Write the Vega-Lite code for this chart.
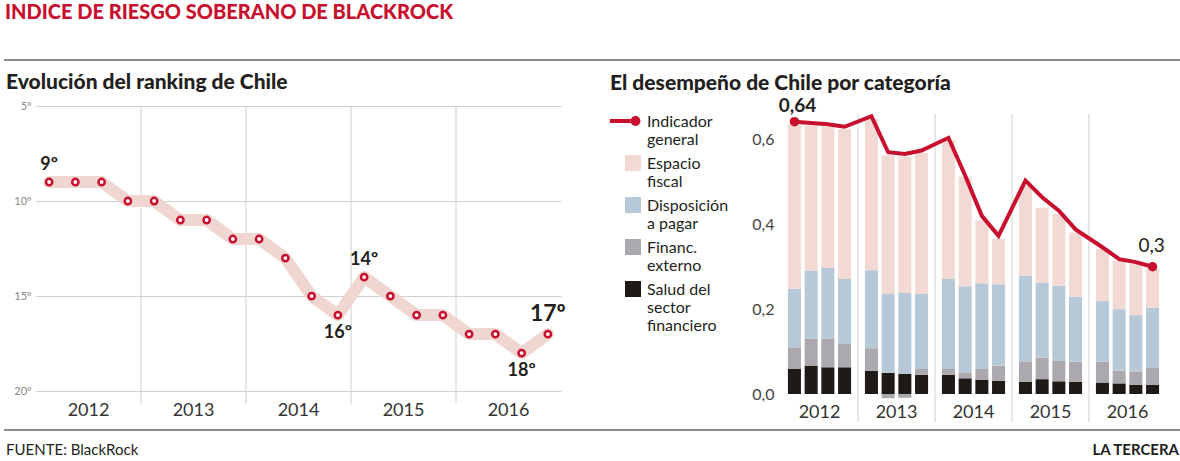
{
  "$schema": "https://vega.github.io/schema/vega-lite/v6.json",
  "background": "white",
  "padding": {"left": 3, "top": 3, "right": 0, "bottom": 0},
  "config": {"font": "Lato", "view": {"stroke": null}},
  "bounds": "full",
  "spacing": 6,
  "resolve": {"scale": {"color": "independent", "xOffset": "independent"}, "legend": {"color": "independent"}},
  "datasets": {
    "separador": [{"ini": 0, "fin": 1, "nivel": 1}],
    "ranking": [
      {"anio": "2012", "trim": "T1", "puesto": 9, "etiqueta": "9º"},
      {"anio": "2012", "trim": "T2", "puesto": 9},
      {"anio": "2012", "trim": "T3", "puesto": 9},
      {"anio": "2012", "trim": "T4", "puesto": 10},
      {"anio": "2013", "trim": "T1", "puesto": 10},
      {"anio": "2013", "trim": "T2", "puesto": 11},
      {"anio": "2013", "trim": "T3", "puesto": 11},
      {"anio": "2013", "trim": "T4", "puesto": 12},
      {"anio": "2014", "trim": "T1", "puesto": 12},
      {"anio": "2014", "trim": "T2", "puesto": 13},
      {"anio": "2014", "trim": "T3", "puesto": 15},
      {"anio": "2014", "trim": "T4", "puesto": 16, "etiqueta": "16º"},
      {"anio": "2015", "trim": "T1", "puesto": 14, "etiqueta": "14º"},
      {"anio": "2015", "trim": "T2", "puesto": 15},
      {"anio": "2015", "trim": "T3", "puesto": 16},
      {"anio": "2015", "trim": "T4", "puesto": 16},
      {"anio": "2016", "trim": "T1", "puesto": 17},
      {"anio": "2016", "trim": "T2", "puesto": 17},
      {"anio": "2016", "trim": "T3", "puesto": 18, "etiqueta": "18º"},
      {"anio": "2016", "trim": "T4", "puesto": 17, "etiqueta": "17º"}
    ],
    "indicador": [
      {"anio": "2012", "trim": "T1", "valor": 0.642, "etiqueta": "0,64"},
      {"anio": "2012", "trim": "T2", "valor": 0.639},
      {"anio": "2012", "trim": "T3", "valor": 0.636},
      {"anio": "2012", "trim": "T4", "valor": 0.630},
      {"anio": "2013", "trim": "T1", "valor": 0.655},
      {"anio": "2013", "trim": "T2", "valor": 0.570},
      {"anio": "2013", "trim": "T3", "valor": 0.566},
      {"anio": "2013", "trim": "T4", "valor": 0.574},
      {"anio": "2014", "trim": "T1", "valor": 0.604},
      {"anio": "2014", "trim": "T2", "valor": 0.515},
      {"anio": "2014", "trim": "T3", "valor": 0.420},
      {"anio": "2014", "trim": "T4", "valor": 0.373},
      {"anio": "2015", "trim": "T1", "valor": 0.503},
      {"anio": "2015", "trim": "T2", "valor": 0.464},
      {"anio": "2015", "trim": "T3", "valor": 0.432},
      {"anio": "2015", "trim": "T4", "valor": 0.388},
      {"anio": "2016", "trim": "T1", "valor": 0.346},
      {"anio": "2016", "trim": "T2", "valor": 0.318},
      {"anio": "2016", "trim": "T3", "valor": 0.311},
      {"anio": "2016", "trim": "T4", "valor": 0.300, "etiqueta": "0,3"}
    ],
    "componentes": [
      {"anio": "2012", "trim": "T1", "categoria": "Salud del sector financiero", "valor": 0.059},
      {"anio": "2012", "trim": "T1", "categoria": "Financ. externo", "valor": 0.051},
      {"anio": "2012", "trim": "T1", "categoria": "Disposición a pagar", "valor": 0.138},
      {"anio": "2012", "trim": "T1", "categoria": "Espacio fiscal", "valor": 0.387},
      {"anio": "2012", "trim": "T2", "categoria": "Salud del sector financiero", "valor": 0.067},
      {"anio": "2012", "trim": "T2", "categoria": "Financ. externo", "valor": 0.064},
      {"anio": "2012", "trim": "T2", "categoria": "Disposición a pagar", "valor": 0.160},
      {"anio": "2012", "trim": "T2", "categoria": "Espacio fiscal", "valor": 0.342},
      {"anio": "2012", "trim": "T3", "categoria": "Salud del sector financiero", "valor": 0.063},
      {"anio": "2012", "trim": "T3", "categoria": "Financ. externo", "valor": 0.068},
      {"anio": "2012", "trim": "T3", "categoria": "Disposición a pagar", "valor": 0.166},
      {"anio": "2012", "trim": "T3", "categoria": "Espacio fiscal", "valor": 0.333},
      {"anio": "2012", "trim": "T4", "categoria": "Salud del sector financiero", "valor": 0.063},
      {"anio": "2012", "trim": "T4", "categoria": "Financ. externo", "valor": 0.055},
      {"anio": "2012", "trim": "T4", "categoria": "Disposición a pagar", "valor": 0.153},
      {"anio": "2012", "trim": "T4", "categoria": "Espacio fiscal", "valor": 0.353},
      {"anio": "2013", "trim": "T1", "categoria": "Salud del sector financiero", "valor": 0.055},
      {"anio": "2013", "trim": "T1", "categoria": "Financ. externo", "valor": 0.053},
      {"anio": "2013", "trim": "T1", "categoria": "Disposición a pagar", "valor": 0.184},
      {"anio": "2013", "trim": "T1", "categoria": "Espacio fiscal", "valor": 0.356},
      {"anio": "2013", "trim": "T2", "categoria": "Salud del sector financiero", "valor": 0.050},
      {"anio": "2013", "trim": "T2", "categoria": "Financ. externo", "valor": -0.010},
      {"anio": "2013", "trim": "T2", "categoria": "Disposición a pagar", "valor": 0.186},
      {"anio": "2013", "trim": "T2", "categoria": "Espacio fiscal", "valor": 0.327},
      {"anio": "2013", "trim": "T3", "categoria": "Salud del sector financiero", "valor": 0.048},
      {"anio": "2013", "trim": "T3", "categoria": "Financ. externo", "valor": -0.009},
      {"anio": "2013", "trim": "T3", "categoria": "Disposición a pagar", "valor": 0.190},
      {"anio": "2013", "trim": "T3", "categoria": "Espacio fiscal", "valor": 0.322},
      {"anio": "2013", "trim": "T4", "categoria": "Salud del sector financiero", "valor": 0.045},
      {"anio": "2013", "trim": "T4", "categoria": "Financ. externo", "valor": 0.014},
      {"anio": "2013", "trim": "T4", "categoria": "Disposición a pagar", "valor": 0.177},
      {"anio": "2013", "trim": "T4", "categoria": "Espacio fiscal", "valor": 0.332},
      {"anio": "2014", "trim": "T1", "categoria": "Salud del sector financiero", "valor": 0.045},
      {"anio": "2014", "trim": "T1", "categoria": "Financ. externo", "valor": 0.014},
      {"anio": "2014", "trim": "T1", "categoria": "Disposición a pagar", "valor": 0.212},
      {"anio": "2014", "trim": "T1", "categoria": "Espacio fiscal", "valor": 0.327},
      {"anio": "2014", "trim": "T2", "categoria": "Salud del sector financiero", "valor": 0.037},
      {"anio": "2014", "trim": "T2", "categoria": "Financ. externo", "valor": 0.014},
      {"anio": "2014", "trim": "T2", "categoria": "Disposición a pagar", "valor": 0.203},
      {"anio": "2014", "trim": "T2", "categoria": "Espacio fiscal", "valor": 0.258},
      {"anio": "2014", "trim": "T3", "categoria": "Salud del sector financiero", "valor": 0.034},
      {"anio": "2014", "trim": "T3", "categoria": "Financ. externo", "valor": 0.025},
      {"anio": "2014", "trim": "T3", "categoria": "Disposición a pagar", "valor": 0.202},
      {"anio": "2014", "trim": "T3", "categoria": "Espacio fiscal", "valor": 0.148},
      {"anio": "2014", "trim": "T4", "categoria": "Salud del sector financiero", "valor": 0.031},
      {"anio": "2014", "trim": "T4", "categoria": "Financ. externo", "valor": 0.036},
      {"anio": "2014", "trim": "T4", "categoria": "Disposición a pagar", "valor": 0.192},
      {"anio": "2014", "trim": "T4", "categoria": "Espacio fiscal", "valor": 0.107},
      {"anio": "2015", "trim": "T1", "categoria": "Salud del sector financiero", "valor": 0.029},
      {"anio": "2015", "trim": "T1", "categoria": "Financ. externo", "valor": 0.048},
      {"anio": "2015", "trim": "T1", "categoria": "Disposición a pagar", "valor": 0.202},
      {"anio": "2015", "trim": "T1", "categoria": "Espacio fiscal", "valor": 0.212},
      {"anio": "2015", "trim": "T2", "categoria": "Salud del sector financiero", "valor": 0.035},
      {"anio": "2015", "trim": "T2", "categoria": "Financ. externo", "valor": 0.051},
      {"anio": "2015", "trim": "T2", "categoria": "Disposición a pagar", "valor": 0.177},
      {"anio": "2015", "trim": "T2", "categoria": "Espacio fiscal", "valor": 0.176},
      {"anio": "2015", "trim": "T3", "categoria": "Salud del sector financiero", "valor": 0.030},
      {"anio": "2015", "trim": "T3", "categoria": "Financ. externo", "valor": 0.048},
      {"anio": "2015", "trim": "T3", "categoria": "Disposición a pagar", "valor": 0.177},
      {"anio": "2015", "trim": "T3", "categoria": "Espacio fiscal", "valor": 0.170},
      {"anio": "2015", "trim": "T4", "categoria": "Salud del sector financiero", "valor": 0.029},
      {"anio": "2015", "trim": "T4", "categoria": "Financ. externo", "valor": 0.047},
      {"anio": "2015", "trim": "T4", "categoria": "Disposición a pagar", "valor": 0.154},
      {"anio": "2015", "trim": "T4", "categoria": "Espacio fiscal", "valor": 0.151},
      {"anio": "2016", "trim": "T1", "categoria": "Salud del sector financiero", "valor": 0.027},
      {"anio": "2016", "trim": "T1", "categoria": "Financ. externo", "valor": 0.049},
      {"anio": "2016", "trim": "T1", "categoria": "Disposición a pagar", "valor": 0.143},
      {"anio": "2016", "trim": "T1", "categoria": "Espacio fiscal", "valor": 0.123},
      {"anio": "2016", "trim": "T2", "categoria": "Salud del sector financiero", "valor": 0.025},
      {"anio": "2016", "trim": "T2", "categoria": "Financ. externo", "valor": 0.030},
      {"anio": "2016", "trim": "T2", "categoria": "Disposición a pagar", "valor": 0.145},
      {"anio": "2016", "trim": "T2", "categoria": "Espacio fiscal", "valor": 0.114},
      {"anio": "2016", "trim": "T3", "categoria": "Salud del sector financiero", "valor": 0.022},
      {"anio": "2016", "trim": "T3", "categoria": "Financ. externo", "valor": 0.031},
      {"anio": "2016", "trim": "T3", "categoria": "Disposición a pagar", "valor": 0.133},
      {"anio": "2016", "trim": "T3", "categoria": "Espacio fiscal", "valor": 0.121},
      {"anio": "2016", "trim": "T4", "categoria": "Salud del sector financiero", "valor": 0.022},
      {"anio": "2016", "trim": "T4", "categoria": "Financ. externo", "valor": 0.041},
      {"anio": "2016", "trim": "T4", "categoria": "Disposición a pagar", "valor": 0.140},
      {"anio": "2016", "trim": "T4", "categoria": "Espacio fiscal", "valor": 0.092}
    ]
  },
  "vconcat": [
    {
      "width": 1145,
      "height": 6,
      "title": {"text": "INDICE DE RIESGO SOBERANO DE BLACKROCK", "anchor": "start", "frame": "bounds", "color": "#c8102e", "font": "Lato", "fontSize": 20, "fontWeight": 900, "offset": 36, "dx": 2},
      "data": {"name": "separador"},
      "mark": {"type": "rule", "stroke": "#8c8c8c", "color": "#8c8c8c", "strokeWidth": 2, "opacity": 1},
      "encoding": {
        "x": {"field": "ini", "type": "quantitative", "scale": {"domain": [0, 1], "range": [-32, 1145]}, "axis": null},
        "x2": {"field": "fin"},
        "y": {"field": "nivel", "type": "quantitative", "scale": {"domain": [0, 1]}, "axis": null}
      }
    },
    {
      "spacing": 44,
      "bounds": "full",
      "resolve": {"scale": {"color": "independent", "xOffset": "independent"}, "legend": {"color": "independent"}},
      "hconcat": [
        {
          "width": 525,
          "height": 298,
          "title": {"text": "Evolución del ranking de Chile", "anchor": "start", "frame": "bounds", "font": "Lato", "fontSize": 21, "fontWeight": 900, "color": "#231f20", "offset": 7, "dx": 2},
          "data": {"name": "ranking"},
          "encoding": {
            "y": {"field": "puesto", "type": "quantitative", "title": null, "scale": {"domain": [5, 20.68], "reverse": true, "nice": false, "zero": false},
              "axis": {"values": [5, 10, 15, 20], "domain": false, "ticks": false, "labelExpr": "datum.value + 'º'", "labelFontSize": 11, "labelColor": "#888888", "labelPadding": 5, "minExtent": 32, "gridColor": "#cfcfcf"}}
          },
          "layer": [
            {
              "transform": [{"filter": "datum.trim == 'T1' && datum.anio != '2012'"}],
              "mark": {"type": "rule", "color": "#cfcfcf", "strokeWidth": 1},
              "encoding": {
                "x": {"field": "anio", "type": "ordinal", "bandPosition": 0, "title": null, "scale": {"type": "band", "paddingInner": 0, "paddingOuter": 0},
                  "axis": {"domain": false, "ticks": false, "grid": false, "labelAngle": 0, "labelFontSize": 18, "labelColor": "#333333", "labelPadding": -3}},
                "y": null
              }
            },
            {
              "mark": {"type": "line", "color": "#f0d6d1", "strokeWidth": 12, "strokeJoin": "round", "strokeCap": "round"},
              "encoding": {
                "x": {"field": "anio", "type": "ordinal", "scale": {"type": "band", "paddingInner": 0, "paddingOuter": 0}},
                "xOffset": {"field": "trim", "type": "ordinal", "scale": {"type": "band", "paddingInner": 0, "paddingOuter": 0}}
              }
            },
            {
              "mark": {"type": "point", "shape": "circle", "filled": true, "fill": "white", "stroke": "#c8102e", "strokeWidth": 2.5, "size": 40, "opacity": 1},
              "encoding": {
                "x": {"field": "anio", "type": "ordinal", "scale": {"type": "band", "paddingInner": 0, "paddingOuter": 0}},
                "xOffset": {"field": "trim", "type": "ordinal", "scale": {"type": "band", "paddingInner": 0, "paddingOuter": 0}}
              }
            },
            {"transform": [{"filter": "datum.etiqueta == '9º' || datum.etiqueta == '14º'"}],
             "mark": {"type": "text", "fontSize": 18, "fontWeight": "bold", "color": "#231f20", "dy": -17},
             "encoding": {
               "x": {"field": "anio", "type": "ordinal", "scale": {"type": "band", "paddingInner": 0, "paddingOuter": 0}},
               "xOffset": {"field": "trim", "type": "ordinal", "scale": {"type": "band", "paddingInner": 0, "paddingOuter": 0}},
               "text": {"field": "etiqueta"}}},
            {"transform": [{"filter": "datum.etiqueta == '16º' || datum.etiqueta == '18º'"}],
             "mark": {"type": "text", "fontSize": 18, "fontWeight": "bold", "color": "#231f20", "dy": 18},
             "encoding": {
               "x": {"field": "anio", "type": "ordinal", "scale": {"type": "band", "paddingInner": 0, "paddingOuter": 0}},
               "xOffset": {"field": "trim", "type": "ordinal", "scale": {"type": "band", "paddingInner": 0, "paddingOuter": 0}},
               "text": {"field": "etiqueta"}}},
            {"transform": [{"filter": "datum.etiqueta == '17º'"}],
             "mark": {"type": "text", "fontSize": 23, "fontWeight": "bold", "color": "#231f20", "dy": -20},
             "encoding": {
               "x": {"field": "anio", "type": "ordinal", "scale": {"type": "band", "paddingInner": 0, "paddingOuter": 0}},
               "xOffset": {"field": "trim", "type": "ordinal", "scale": {"type": "band", "paddingInner": 0, "paddingOuter": 0}},
               "text": {"field": "etiqueta"}}}
          ]
        },
        {
          "width": 385,
          "height": 316,
          "title": {"text": "El desempeño de Chile por categoría", "anchor": "start", "frame": "bounds", "font": "Lato", "fontSize": 21, "fontWeight": 900, "color": "#231f20", "offset": 3, "dx": -15},
          "layer": [
            {
              "data": {"name": "indicador"},
              "transform": [{"filter": "datum.trim == 'T1' && datum.anio != '2012'"}],
              "mark": {"type": "rule", "color": "#cfcfcf", "strokeWidth": 1},
              "encoding": {
                "x": {"field": "anio", "type": "ordinal", "bandPosition": 0, "title": null, "scale": {"type": "band", "paddingInner": 0, "paddingOuter": 0},
                  "axis": {"domain": false, "ticks": false, "grid": false, "labelAngle": 0, "labelFontSize": 18, "labelColor": "#333333", "labelPadding": -19}},
                "y": {"datum": 0.66, "type": "quantitative"},
                "y2": {"datum": -0.066}
              }
            },
            {
              "data": {"name": "componentes"},
              "mark": {"type": "bar"},
              "encoding": {
                "x": {"field": "anio", "type": "ordinal", "scale": {"type": "band", "paddingInner": 0, "paddingOuter": 0}},
                "xOffset": {"field": "trim", "type": "ordinal", "scale": {"type": "band", "paddingInner": 0.22, "paddingOuter": 0.415}},
                "y": {"field": "valor", "type": "quantitative", "stack": "zero", "title": null, "scale": {"domain": [-0.066, 0.679], "nice": false, "zero": false},
                  "axis": {"values": [0, 0.2, 0.4, 0.6], "domain": false, "ticks": false, "labelExpr": "replace(format(datum.value, '.1f'), '.', ',')", "labelFontSize": 16, "labelColor": "#444444", "labelPadding": 7, "minExtent": 34, "gridColor": "#c8c8c8", "zindex": 1}},
                "order": {"field": "trim"},
                "color": {"field": "categoria", "type": "nominal",
                  "scale": {"domain": ["Indicador general", "Espacio fiscal", "Disposición a pagar", "Financ. externo", "Salud del sector financiero"], "range": ["#c8102e", "#f3d9d4", "#b7c9d9", "#aba9ae", "#1e1a17"]},
                  "legend": {
                    "orient": "left", "title": " ", "titleFontSize": 6, "titlePadding": 1, "offset": 18, "padding": 0,
                    "labelFont": "Lato", "labelFontSize": 16, "labelColor": "#231f20", "labelLineHeight": 19, "labelBaseline": "top", "labelLimit": 200,
                    "labelOffset": 6, "rowPadding": 7, "symbolSize": 256, "symbolStrokeWidth": 0, "symbolType": "square", "symbolOpacity": 1,
                    "labelExpr": "datum.label == 'Indicador general' ? ['Indicador', 'general'] : datum.label == 'Espacio fiscal' ? ['Espacio', 'fiscal'] : datum.label == 'Disposición a pagar' ? ['Disposición', 'a pagar'] : datum.label == 'Financ. externo' ? ['Financ.', 'externo'] : ['Salud del', 'sector', 'financiero']",
                    "encode": {
                      "symbols": {"update": {"shape": {"signal": "datum.value == 'Indicador general' ? 'M-2.9,-0.25L-0.28,-0.25L-0.28,0.25L-2.9,0.25Z M-0.31,0A0.62,0.62 0 1,0 0.93,0A0.62,0.62 0 1,0 -0.31,0Z' : 'square'"}}},
                      "labels": {"update": {"dy": {"value": -7}}}
                    }
                  }
                }
              }
            },
            {
              "data": {"name": "indicador"},
              "mark": {"type": "line", "color": "#c8102e", "strokeWidth": 4},
              "encoding": {
                "x": {"field": "anio", "type": "ordinal", "scale": {"type": "band", "paddingInner": 0, "paddingOuter": 0}},
                "xOffset": {"field": "trim", "type": "ordinal", "scale": {"type": "band", "paddingInner": 0.22, "paddingOuter": 0.415}},
                "y": {"field": "valor", "type": "quantitative"}
              }
            },
            {
              "data": {"name": "indicador"},
              "transform": [{"filter": "isValid(datum.etiqueta)"}],
              "mark": {"type": "circle", "size": 90, "color": "#c8102e", "opacity": 1},
              "encoding": {
                "x": {"field": "anio", "type": "ordinal", "scale": {"type": "band", "paddingInner": 0, "paddingOuter": 0}},
                "xOffset": {"field": "trim", "type": "ordinal", "scale": {"type": "band", "paddingInner": 0.22, "paddingOuter": 0.415}},
                "y": {"field": "valor", "type": "quantitative"}
              }
            },
            {
              "data": {"name": "indicador"},
              "transform": [{"filter": "datum.etiqueta == '0,64'"}],
              "mark": {"type": "text", "fontSize": 19, "fontWeight": "bold", "color": "#231f20", "dy": -16, "dx": 3},
              "encoding": {
                "x": {"field": "anio", "type": "ordinal", "scale": {"type": "band", "paddingInner": 0, "paddingOuter": 0}},
                "xOffset": {"field": "trim", "type": "ordinal", "scale": {"type": "band", "paddingInner": 0.22, "paddingOuter": 0.415}},
                "y": {"field": "valor", "type": "quantitative"},
                "text": {"field": "etiqueta"}
              }
            },
            {
              "data": {"name": "indicador"},
              "transform": [{"filter": "datum.etiqueta == '0,3'"}],
              "mark": {"type": "text", "fontSize": 19, "color": "#231f20", "dy": -21, "dx": -1},
              "encoding": {
                "x": {"field": "anio", "type": "ordinal", "scale": {"type": "band", "paddingInner": 0, "paddingOuter": 0}},
                "xOffset": {"field": "trim", "type": "ordinal", "scale": {"type": "band", "paddingInner": 0.22, "paddingOuter": 0.415}},
                "y": {"field": "valor", "type": "quantitative"},
                "text": {"field": "etiqueta"}
              }
            }
          ]
        }
      ]
    },
    {
      "width": 1145,
      "height": 25,
      "layer": [
        {
          "data": {"name": "separador"},
          "mark": {"type": "rule", "stroke": "#8c8c8c", "color": "#8c8c8c", "strokeWidth": 2, "opacity": 1},
          "encoding": {
            "x": {"field": "ini", "type": "quantitative", "scale": {"domain": [0, 1], "range": [-32, 1145]}, "axis": null},
            "x2": {"field": "fin"},
            "y": {"field": "nivel", "type": "quantitative", "scale": {"domain": [0, 1]}, "axis": null}
          }
        },
        {
          "data": {"values": [{"texto": "FUENTE: BlackRock", "ini": 0, "nivel": 0}]},
          "mark": {"type": "text", "align": "left", "baseline": "alphabetic", "fontSize": 15, "color": "#231f20", "dx": 2},
          "encoding": {
            "x": {"field": "ini", "type": "quantitative"},
            "y": {"field": "nivel", "type": "quantitative"},
            "text": {"field": "texto"}
          }
        },
        {
          "data": {"values": [{"texto": "LA TERCERA", "ini": 1, "nivel": 0}]},
          "mark": {"type": "text", "align": "right", "baseline": "alphabetic", "fontSize": 15, "fontWeight": "bold", "color": "#231f20", "dx": -2},
          "encoding": {
            "x": {"field": "ini", "type": "quantitative"},
            "y": {"field": "nivel", "type": "quantitative"},
            "text": {"field": "texto"}
          }
        }
      ]
    }
  ]
}
